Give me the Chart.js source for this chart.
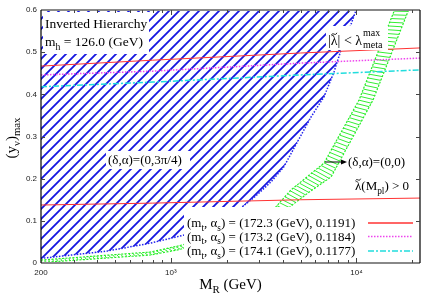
<!DOCTYPE html>
<html lang="en">
<head>
<meta charset="UTF-8" />
<title>Inverted Hierarchy</title>
<script src="https://cdn.jsdelivr.net/npm/chart.js"></script>
<style>
  body { margin: 0; background: #fff; }
  .chart-box { width: 436px; height: 300px; }
</style>
</head>
<body>
<div class="chart-box"><canvas id="myChart" width="436" height="300"></canvas></div>
<script>
// M_R values (GeV) for the (m_t, alpha_s) curves
const lineX = [200, 800, 5000, 22000];
const redUpper = [0.467, 0.481, 0.498, 0.510];
const magentaUpper = [0.446, 0.455, 0.474, 0.486];
const cyanUpper = [0.418, 0.429, 0.446, 0.458];
const redLower = [0.1375, 0.142, 0.150, 0.154];

// (delta,alpha)=(0,3pi/4) region boundary
const blueX = [200, 450, 776, 1172, 1744, 2380, 2870, 3460, 4065, 4780, 5690, 6690, 7570, 8260, 9130, 9960];
const blueY = [0.011, 0.028, 0.047, 0.066, 0.097, 0.130, 0.159, 0.192, 0.228, 0.285, 0.346, 0.394, 0.453, 0.505, 0.553, 0.600];

// (delta,alpha)=(0,0) band edges
const greenAX = [200, 776, 1087, 2700, 3680, 4436, 6690, 10340, 15980, 16500];
const greenAY = [0.007, 0.026, 0.040, 0.083, 0.133, 0.173, 0.237, 0.387, 0.598, 0.625];
const greenBX = [200, 776, 1087, 3250, 4436, 5480, 7300, 12300, 19020, 20000];
const greenBY = [0.001, 0.019, 0.031, 0.083, 0.135, 0.166, 0.204, 0.387, 0.598, 0.624];

const legendLabels = ["172.3", "173.2", "174.1"];
const legendAlphas = ["0.1191", "0.1184", "0.1177"];

const xy = (xs, ys) => xs.map((v, i) => ({ x: v, y: ys[i] }));

const ctx = document.getElementById("myChart").getContext("2d");

function hatch(color, size, width) {
  const c = document.createElement("canvas");
  c.width = c.height = size;
  const g = c.getContext("2d");
  g.strokeStyle = color;
  g.lineWidth = width;
  g.beginPath();
  g.moveTo(-1, size + 1); g.lineTo(size + 1, -1);
  g.moveTo(-1, 1); g.lineTo(1, -1);
  g.moveTo(size - 1, size + 1); g.lineTo(size + 1, size - 1);
  g.stroke();
  return ctx.createPattern(c, "repeat");
}

const SERIF = '"Liberation Serif", "DejaVu Serif", serif';

// parts: "text" or [text, kind], kind: "sub" | "sup" | "tilde"
function drawRich(c, x, y, parts, size, align) {
  let w = 0;
  const items = parts.map((p) => {
    const [t, k] = Array.isArray(p) ? p : [p, ""];
    const s = k === "sub" || k === "sup" ? size * 0.72 : size;
    c.font = s + "px " + SERIF;
    const tw = c.measureText(t).width;
    w += tw;
    return { t, k, s, tw };
  });
  let cx = align === "center" ? x - w / 2 : align === "right" ? x - w : x;
  c.textAlign = "left";
  c.textBaseline = "alphabetic";
  items.forEach((it) => {
    c.font = it.s + "px " + SERIF;
    const dy = it.k === "sub" ? size * 0.28 : it.k === "sup" ? -size * 0.42 : 0;
    c.fillText(it.t, cx, y + dy);
    if (it.k === "tilde") {
      const ty = y - size * 0.8, x0 = cx + it.tw * 0.1, x1 = cx + it.tw * 0.9;
      const h = size * 0.07;
      c.save();
      c.strokeStyle = c.fillStyle;
      c.lineWidth = 0.9;
      c.beginPath();
      c.moveTo(x0, ty + h);
      c.bezierCurveTo(x0 + (x1 - x0) * 0.3, ty - 2 * h, x0 + (x1 - x0) * 0.7, ty + 3 * h, x1, ty - h);
      c.stroke();
      c.restore();
    }
    cx += it.tw;
  });
  return w;
}

function toPx(chart, xs, ys) {
  const sx = chart.scales.x, sy = chart.scales.y;
  return xs.map((v, i) => [sx.getPixelForValue(v), sy.getPixelForValue(ys[i])]);
}

function resample(pts, n) {
  const d = [0];
  for (let i = 1; i < pts.length; i++) {
    d.push(d[i - 1] + Math.hypot(pts[i][0] - pts[i - 1][0], pts[i][1] - pts[i - 1][1]));
  }
  const L = d[d.length - 1];
  const out = [];
  let j = 0;
  for (let k = 0; k <= n; k++) {
    const s = (L * k) / n;
    while (j < pts.length - 2 && d[j + 1] < s) j++;
    const t = (s - d[j]) / (d[j + 1] - d[j] || 1);
    out.push([pts[j][0] + t * (pts[j + 1][0] - pts[j][0]), pts[j][1] + t * (pts[j + 1][1] - pts[j][1])]);
  }
  return out;
}

const overlay = {
  id: "overlay",
  afterDatasetDraw(chart, args) {
    if (chart.data.datasets[args.index].label !== "greenA") return;
    const c = chart.ctx, a = chart.chartArea;
    const A = toPx(chart, greenAX, greenAY);
    const B = toPx(chart, greenBX, greenBY);
    let len = 0;
    for (let i = 1; i < A.length; i++) len += Math.hypot(A[i][0] - A[i - 1][0], A[i][1] - A[i - 1][1]);
    const n = Math.round(len / 4);
    const ra = resample(A, n), rb = resample(B, n);
    c.save();
    c.beginPath();
    c.rect(a.left, a.top, a.right - a.left, a.bottom - a.top);
    c.clip();
    c.strokeStyle = "#33ee33";
    c.lineWidth = 1;
    c.beginPath();
    for (let i = 0; i <= n; i++) {
      c.moveTo(ra[i][0], ra[i][1]);
      c.lineTo(rb[i][0], rb[i][1]);
    }
    c.stroke();
    c.restore();
  },
  afterDatasetsDraw(chart) {
    const c = chart.ctx;
    c.save();
    c.fillStyle = "#fff";
    c.fillRect(43, 12, 106, 42);
    c.fillRect(106, 151, 84, 18);
    c.fillRect(326, 26, 62, 24);
    c.fillRect(184, 207, 235, 55);

    c.fillStyle = "#000";
    drawRich(c, 45, 28, ["Inverted Hierarchy"], 13.5, "left");
    drawRich(c, 45, 46, ["m", ["h", "sub"], " = 126.0 (GeV)"], 13.5, "left");
    drawRich(c, 108, 164, ["(δ,α)=(0,3π/4)"], 13, "left");
    const w = drawRich(c, 328, 45, ["|", ["λ", "tilde"], "| < λ"], 14, "left");
    c.font = "10px " + SERIF;
    c.fillText("max", 329 + w, 36);
    c.fillText("meta", 329 + w, 48);
    drawRich(c, 348, 166, ["(δ,α)=(0,0)"], 13, "left");
    drawRich(c, 355, 190, [["λ", "tilde"], "(M", ["pl", "sub"], ") > 0"], 13, "left");

    // arrow
    c.strokeStyle = "#000";
    c.lineWidth = 1;
    c.beginPath();
    c.moveTo(325, 162); c.lineTo(343, 162);
    c.stroke();
    c.beginPath();
    c.moveTo(347, 162); c.lineTo(341, 159.5); c.lineTo(341, 164.5); c.closePath();
    c.fill();

    // legend
    const rows = [227, 240.5, 255];
    const styles = [
      { color: "#ff3333", dash: [] },
      { color: "#ee44ee", dash: [1.5, 1.5] },
      { color: "#22dddd", dash: [6, 2, 2, 2] },
    ];
    rows.forEach((by, i) => {
      c.fillStyle = "#000";
      drawRich(c, 187, by, ["(m", ["t", "sub"], ", α", ["s", "sub"], ") = (" + legendLabels[i] + " (GeV), " + legendAlphas[i] + ")"], 13, "left");
      c.strokeStyle = styles[i].color;
      c.lineWidth = 1.5;
      c.setLineDash(styles[i].dash);
      c.beginPath();
      c.moveTo(368, by - 4); c.lineTo(413, by - 4);
      c.stroke();
    });
    c.setLineDash([]);
    c.restore();
  },
  afterDraw(chart) {
    const c = chart.ctx, a = chart.chartArea;
    const sx = chart.scales.x, sy = chart.scales.y;
    c.save();
    // frame
    c.lineWidth = 2;
    c.strokeStyle = "#888";
    c.beginPath();
    c.moveTo(a.left, a.bottom); c.lineTo(a.right, a.bottom);
    c.moveTo(a.left, a.top); c.lineTo(a.right, a.top);
    c.stroke();
    c.lineWidth = 1.2;
    c.strokeStyle = "#000";
    c.beginPath();
    c.moveTo(a.left, a.top); c.lineTo(a.left, a.bottom);
    c.moveTo(a.right, a.top); c.lineTo(a.right, a.bottom);
    c.stroke();
    // inward ticks
    c.lineWidth = 1;
    c.strokeStyle = "#444";
    c.beginPath();
    for (let dec = 100; dec <= 10000; dec *= 10) {
      for (let m = 1; m <= 9; m++) {
        const v = dec * m;
        if (v <= sx.min || v >= sx.max) continue;
        const px = Math.round(sx.getPixelForValue(v)) + 0.5;
        const len = m === 1 ? 5 : 3;
        c.moveTo(px, a.bottom); c.lineTo(px, a.bottom - len);
        c.moveTo(px, a.top); c.lineTo(px, a.top + len);
      }
    }
    for (let k = 1; k < 6; k++) {
      const py = Math.round(sy.getPixelForValue(k / 10)) + 0.5;
      c.moveTo(a.left, py); c.lineTo(a.left + 4, py);
      c.moveTo(a.right, py); c.lineTo(a.right - 4, py);
    }
    c.stroke();
    // axis titles
    c.fillStyle = "#000";
    drawRich(c, (a.left + a.right) / 2, 289, ["M", ["R", "sub"], " (GeV)"], 15, "center");
    c.translate(16, 138);
    c.rotate(-Math.PI / 2);
    drawRich(c, 0, 0, ["(y", ["ν", "sub"], ")", ["max", "sub"]], 15, "center");
    c.restore();
  },
};

const myChart = new Chart(ctx, {
  type: "line",
  data: {
    datasets: [
      {
        label: "blueFill",
        data: xy(blueX, blueY).concat([{ x: blueX[0], y: 0.6 }]),
        fill: "shape",
        backgroundColor: hatch("#1515e0", 10, 1.8),
        borderWidth: 0,
        pointRadius: 0,
        order: 6,
      },
      {
        label: "blueEdge",
        data: xy(blueX, blueY),
        borderColor: "#2222ee",
        borderWidth: 1.5,
        borderDash: [1.5, 1.5],
        pointRadius: 0,
        fill: false,
        order: 5,
      },
      {
        label: "greenA",
        data: xy(greenAX, greenAY),
        borderColor: "#22ee22",
        borderWidth: 1.2,
        borderDash: [2, 1.5],
        pointRadius: 0,
        fill: false,
        clip: 0,
        order: 4,
      },
      {
        label: "greenB",
        data: xy(greenBX, greenBY),
        borderColor: "#22ee22",
        borderWidth: 1.2,
        borderDash: [2, 1.5],
        pointRadius: 0,
        fill: false,
        clip: 0,
        order: 4,
      },
      {
        label: "red",
        data: xy(lineX, redUpper),
        borderColor: "#ff3333",
        borderWidth: 1,
        pointRadius: 0,
        order: 1,
      },
      {
        label: "redLow",
        data: xy(lineX, redLower),
        borderColor: "#ff3333",
        borderWidth: 1,
        pointRadius: 0,
        order: 1,
      },
      {
        label: "magenta",
        data: xy(lineX, magentaUpper),
        borderColor: "#ee44ee",
        borderWidth: 1.5,
        borderDash: [1.5, 1.5],
        pointRadius: 0,
        order: 1,
      },
      {
        label: "cyan",
        data: xy(lineX, cyanUpper),
        borderColor: "#22dddd",
        borderWidth: 1.5,
        borderDash: [6, 2, 2, 2],
        pointRadius: 0,
        order: 1,
      },
    ],
  },
  options: {
    responsive: false,
    animation: false,
    devicePixelRatio: 1,
    layout: { padding: { left: 0, top: 10, right: 16, bottom: 0 } },
    plugins: { legend: { display: false }, tooltip: { enabled: false } },
    scales: {
      x: {
        type: "logarithmic",
        min: 200,
        max: 22000,
        grid: { display: false, drawTicks: false },
        border: { display: false },
        afterFit: (s) => { s.height = 37; },
        ticks: {
          autoSkip: false,
          maxRotation: 0,
          padding: 5,
          color: "#222",
          font: { family: "Liberation Sans", size: 8 },
          callback: (v) => (v === 200 ? "200" : v === 1000 ? "10³" : v === 10000 ? "10⁴" : ""),
        },
      },
      y: {
        min: 0,
        max: 0.6,
        grid: { display: false, drawTicks: false },
        border: { display: false },
        afterFit: (s) => { s.width = 41; },
        ticks: {
          stepSize: 0.1,
          padding: 4,
          color: "#222",
          font: { family: "Liberation Sans", size: 8 },
          callback: (v) => (Math.abs(v) < 1e-9 ? "0" : v.toFixed(1)),
        },
      },
    },
  },
  plugins: [overlay],
});
</script>
</body>
</html>
